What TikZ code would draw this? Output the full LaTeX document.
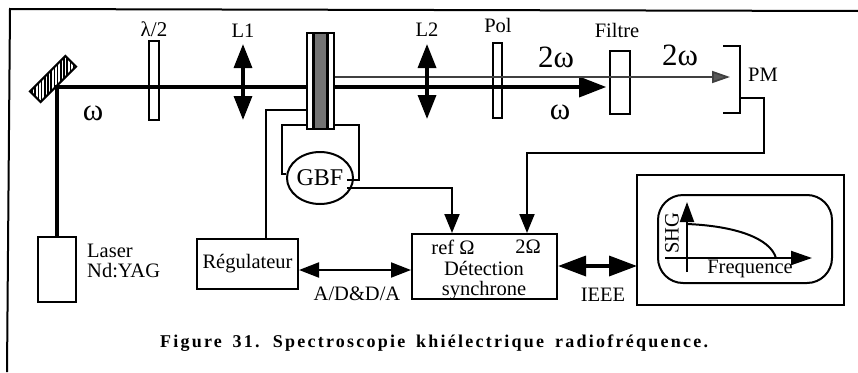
\documentclass[tikz,border=0pt]{standalone}
\usepackage{fontspec}
\setmainfont{Liberation Serif}
\newfontfamily\capfont[LetterSpace=12.5,WordSpace=1.6]{Liberation Serif}
\usetikzlibrary{arrows.meta,positioning,patterns.meta,shapes.geometric}

\begin{document}
\begin{tikzpicture}[
  x=1pt,y=-1pt,
  font=\fontsize{20.5}{20}\selectfont,
  box/.style={draw,line width=2pt,inner sep=0pt,align=center},
  plate/.style={draw,line width=1.6pt,inner sep=0pt,minimum width=#1},
  lbl/.style={inner sep=0pt},
  omega/.style={inner sep=0pt,font=\fontsize{31}{32}\selectfont},
  beam/.style={line width=3.4pt},
  shg/.style={line width=1.8pt,draw=black!75},
  wire/.style={line width=2pt},
  lens/.style={line width=3.4pt,{Triangle[length=24pt,width=18pt]}-{Triangle[length=24pt,width=18pt]}},
  feed/.style={wire,-{Triangle[length=19pt,width=15pt]}},
]
\useasboundingbox (0,0) rectangle (858,372);

% ---- frame of the page: only top and left show ----
\draw[line width=2pt] (7,372) -- (10,9) -- (858,11);

% ---- laser and mirror ----
\node[box,minimum width=38pt,minimum height=65pt] (laser) at (57,269.5) {};
\node[lbl,align=left,anchor=west] (laserlbl) at (87,261) {Laser\\Nd:YAG};
\node[draw,line width=2.2pt,rotate=45,minimum width=50pt,minimum height=15pt,inner sep=0pt,
      pattern={Lines[angle=90,distance=3.2pt,line width=1.5pt]}] (mirror) at (53,79) {};
\coordinate (turn) at (57,87);
\node[omega] (omegaleft) at (93,113) {ω};

% ---- optics along the beam ----
\node[plate=10pt,minimum height=79pt] (lama) at (154,80.5) {};
\node[lbl,font=\fontsize{21}{22}\selectfont] (lamalbl) at (154,29) {λ/2};
\coordinate (lonetop) at (243,44);
\coordinate (lonebot) at (243,120);
\node[lbl] (lonelbl) at (243,31) {L1};
\node[draw,line width=1.8pt,inner sep=0pt,minimum width=27pt,minimum height=96pt] (crystal) at (320.5,81) {};
\node[draw,line width=2.4pt,inner sep=0pt,minimum width=14pt,minimum height=96pt,fill=black!55] (sample) at (320.5,81) {};
\coordinate (ltwotop) at (427,44);
\coordinate (ltwobot) at (427,119);
\node[lbl] (ltwolbl) at (427,30) {L2};
\node[plate=9pt,minimum height=75pt] (pol) at (497.5,80.5) {};
\node[lbl] (pollbl) at (498,25) {Pol};
\node[plate=20pt,minimum height=63pt] (filtre) at (620,82.5) {};
\node[lbl] (filtrelbl) at (617,30) {Filtre};
\node[omega] (shgone) at (556,57) {2ω};
\node[omega] (omegaright) at (560,112) {ω};
\node[omega] (shgtwo) at (680,55) {2ω};

% photomultiplier: a bracket, with its label
\coordinate (pmtop) at (723,46);
\coordinate (pmbot) at (723,113);
\coordinate (pmout) at (740,98);
\coordinate (shgtip) at (730,77);
\draw[wire] (pmtop) -- (740,46) -- (740,113) -- (pmbot);
\node[lbl] (pmlbl) at (763,75) {PM};

% ---- beams ----
\draw[beam] (laser.north) -- (turn) -- (turn -| crystal.west);
\draw[beam,-{Triangle[length=27pt,width=20pt]}] (turn -| crystal.east) -- ([xshift=-3pt]turn -| filtre.west);
\draw[shg,-{Triangle[length=18pt,width=12pt,fill=black!65]}] (shgtip -| crystal.east) -- (shgtip);
\draw[lens] (lonetop) -- (lonebot);
\draw[lens] (ltwotop) -- (ltwobot);

% ---- electronics ----
\node[box,minimum width=101pt,minimum height=50pt] (regul) at (247.5,264) {Régulateur};
\node[draw,line width=2pt,ellipse,inner sep=0pt,minimum width=57pt,minimum height=52pt,
      font=\fontsize{24}{24}\selectfont] (gbf) at (320,178) {GBF};
\node[box,minimum width=145pt,minimum height=65pt] (detect) at (484.5,266.5) {};
\node[lbl] (refin) at (453,247) {ref Ω};
\node[lbl] (twoin) at (528,247) {2Ω};
\node[lbl,align=center] (detectlbl) at (484,280.5) {Détection\\synchrone};

\draw[wire] (266,0 |- regul.north) -- (266,110) -- (crystal.west |- 0,110);
\draw[wire] (crystal.west |- 0,125) -- (282,125) -- (282,174) -- (gbf.west |- 0,174);
\draw[wire] (crystal.east |- 0,125) -- (359,125) -- (359,180) -- (347,180);
\draw[feed] (347,188) -- (452,188) -- (452,233);
\draw[feed] (pmout) -- (764,98) -- (764,153) -- (527,153) -- (527,233);

\draw[wire,{Triangle[length=20pt,width=15pt]}-{Triangle[length=20pt,width=15pt]}]
     (regul.east |- 0,270) -- (detect.west |- 0,270);
\node[lbl] (adda) at (357,294) {A/D\&D/A};
\draw[line width=3.5pt,{Triangle[length=28pt,width=20pt]}-{Triangle[length=28pt,width=20pt]}]
     (detect.east |- 0,266) -- (637,266);
\node[lbl] (ieee) at (603,295) {IEEE};

% ---- screen with the response curve ----
\node[draw,line width=2.4pt,inner sep=0pt,minimum width=207pt,minimum height=130pt] (screen) at (740.5,240) {};
\node[draw,line width=2pt,rounded corners=25pt,inner sep=0pt,minimum width=174pt,minimum height=88pt] (panel) at (745,239) {};
\coordinate (yorig) at (687,272);
\coordinate (ytip) at (687,202);
\coordinate (xorig) at (665,258);
\coordinate (xtip) at (812,258);
\draw[wire,-{Triangle[length=20pt,width=14pt]}] (yorig) -- (ytip);
\draw[wire,-{Triangle[length=21pt,width=14pt]}] (xorig) -- (xtip);
\draw[wire] (687,224) .. controls (735,226) and (770,238) .. (776,258);
\node[lbl,rotate=90] (shgaxis) at (672,233) {SHG};
\node[lbl] (freq) at (750,269) {Frequence};

% ---- caption ----
\node[lbl,font=\fontsize{18}{20}\selectfont\capfont\bfseries] (caption) at (434,343)
     {Figure 31. Spectroscopie khiélectrique radiofréquence.};

\end{tikzpicture}
\end{document}
